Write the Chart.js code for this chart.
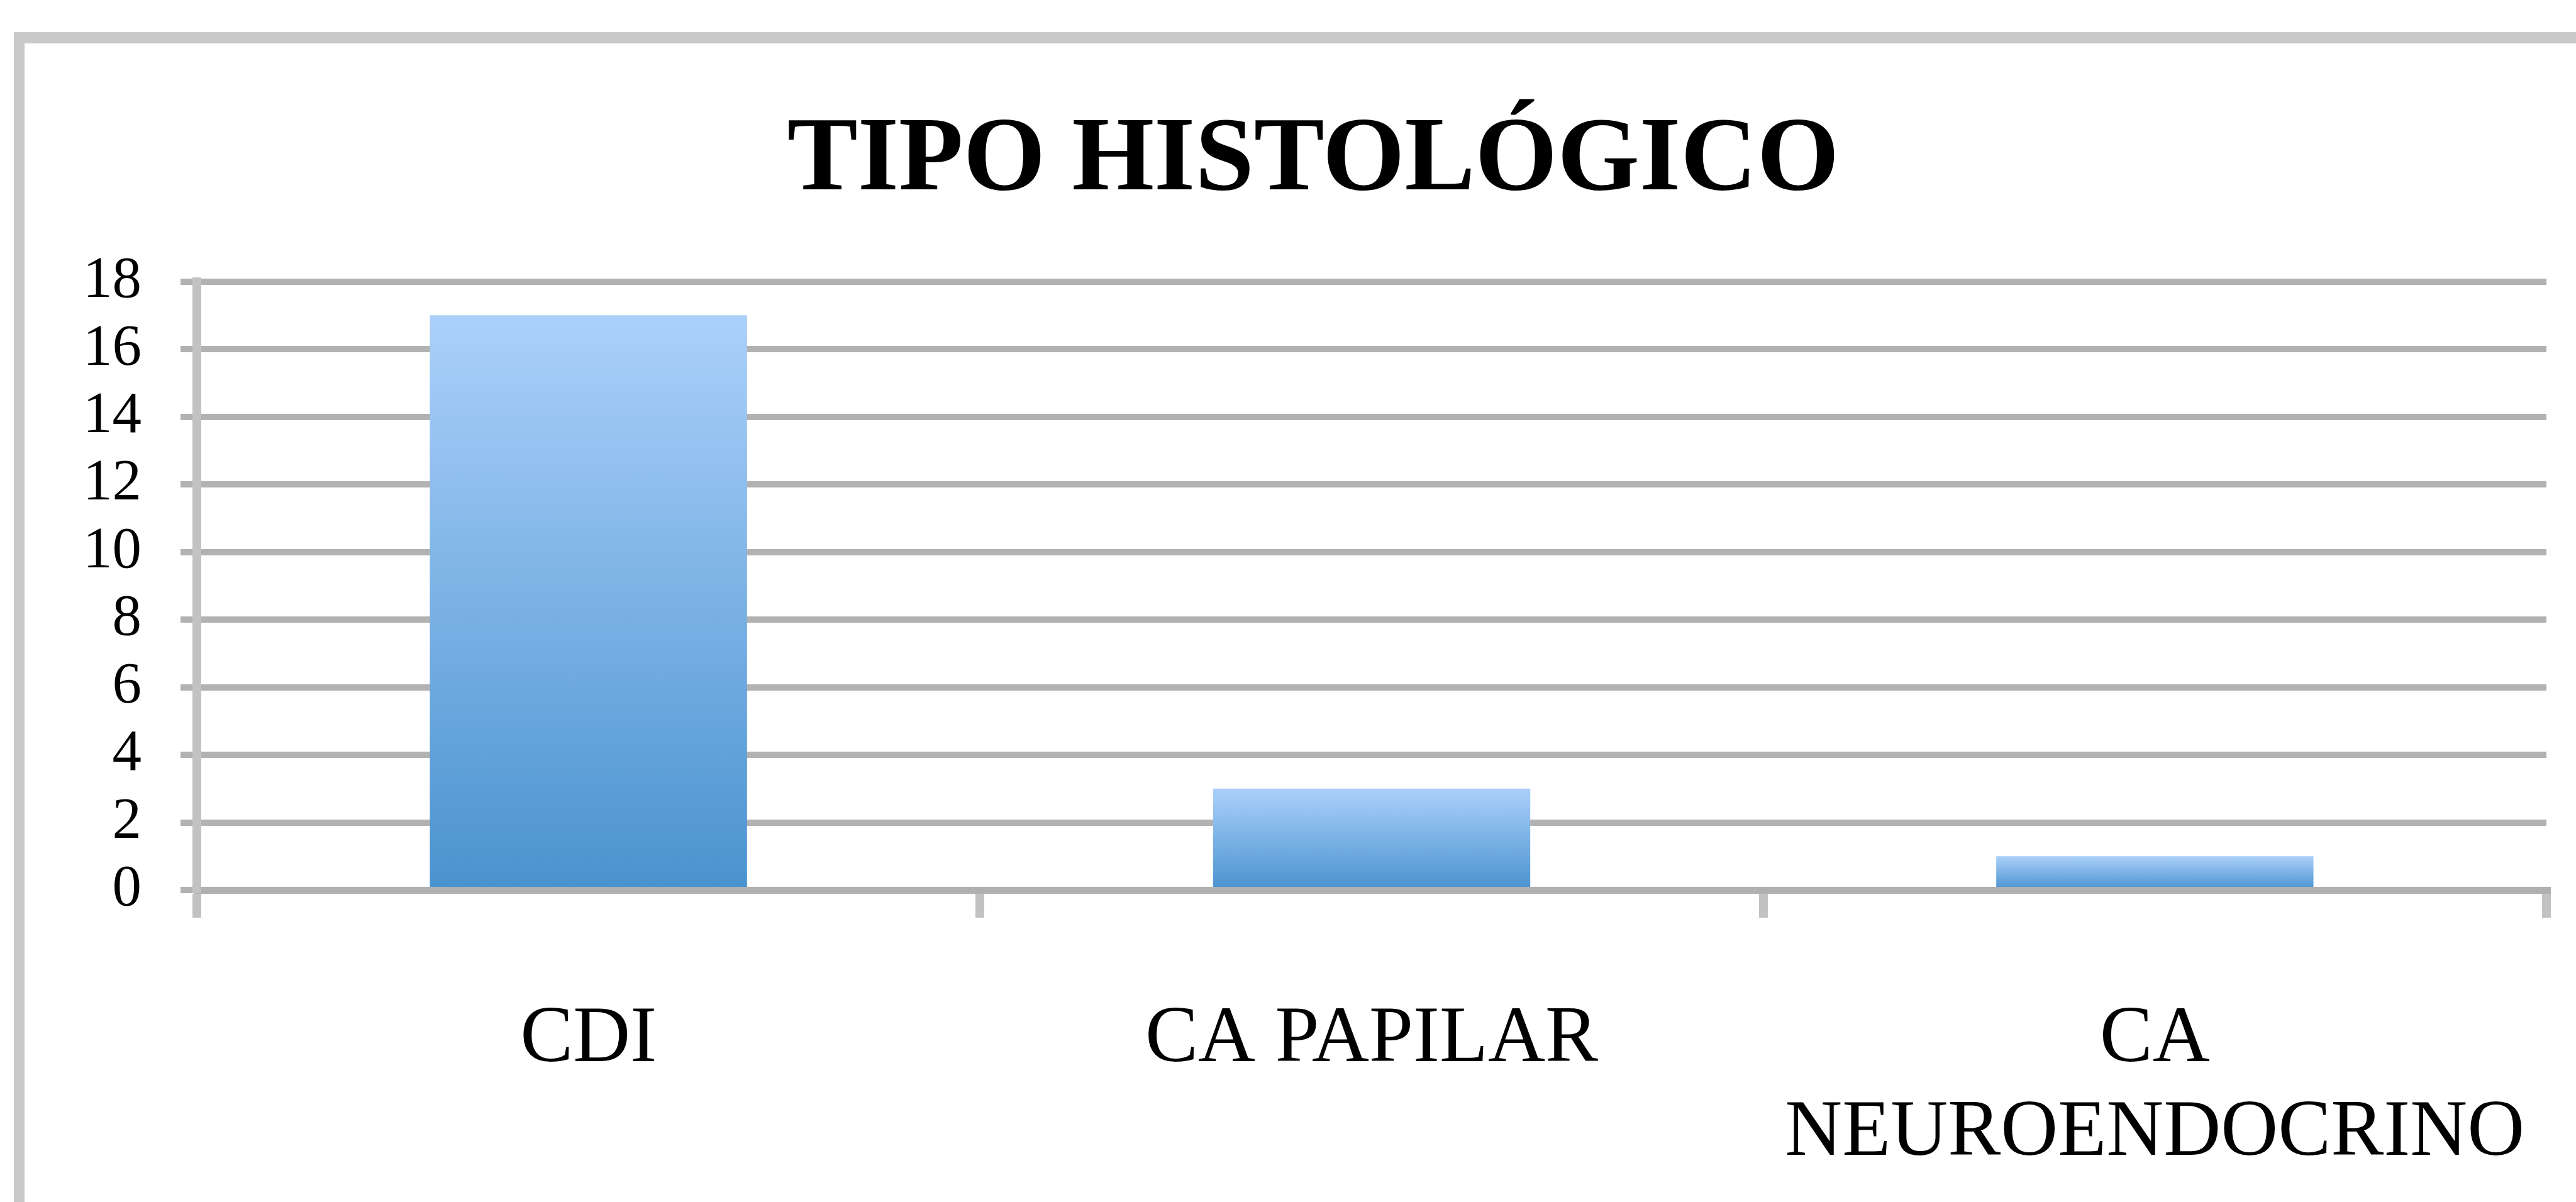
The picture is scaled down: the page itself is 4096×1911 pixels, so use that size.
<!DOCTYPE html>
<html>
<head>
<meta charset="utf-8">
<script src="https://cdn.jsdelivr.net/npm/chart.js@4.4.1/dist/chart.umd.min.js"></script>
<style>
    html, body { margin: 0; padding: 0; background: #fff; overflow: hidden; }
    #frame {
        position: absolute; left: 22px; top: 51px; width: 5000px; height: 3000px;
        border-top: 18px solid #c9c9c9; border-left: 17px solid #c9c9c9;
    }
    #wrap { position: absolute; left: 0; top: 0; width: 4096px; height: 1911px; }
</style>
</head>
<body>
<div id="frame"></div>
<div id="wrap"><canvas id="chartBar"></canvas></div>
<script>
const chartTitle = 'TIPO HISTOLÓGICO';
const categories = ['CDI', 'CA PAPILAR', ['CA', 'NEUROENDOCRINO']];
const counts = [17, 3, 1];
const yMin = 0, yMax = 18, yStep = 2;

const serif = '"Liberation Serif", "Times New Roman", serif';

// vertical gradient for each bar, from its own top down to zero
const barGradient = (ctx) => {
    const chart = ctx.chart;
    const y = chart.scales.y;
    if (!y || ctx.type !== 'data') return '#7fb3e8';
    const top = y.getPixelForValue(ctx.raw);
    const bottom = y.getPixelForValue(0);
    if (!isFinite(top) || !isFinite(bottom) || top === bottom) return '#7fb3e8';
    const g = chart.ctx.createLinearGradient(0, top, 0, bottom);
    g.addColorStop(0, '#abd0fa');
    g.addColorStop(1, '#4a93cf');
    return g;
};

new Chart(document.getElementById('chartBar').getContext('2d'), {
    type: 'bar',
    data: {
        labels: categories,
        datasets: [{
            data: counts,
            backgroundColor: barGradient,
            borderWidth: 0,
            barPercentage: 1,
            categoryPercentage: 0.405
        }]
    },
    options: {
        responsive: true, maintainAspectRatio: false,
        devicePixelRatio: 1,
        animation: false,
        events: [],
        layout: { padding: { left: 127, right: 47, top: 0, bottom: 0 } },
        plugins: {
            legend: { display: false },
            tooltip: { enabled: false },
            title: {
                display: true,
                text: chartTitle,
                color: '#000',
                font: { family: serif, size: 168, weight: 'bold', lineHeight: 1.2 },
                padding: { top: 157, bottom: 89 }
            }
        },
        scales: {
            x: {
                grid: {
                    display: true, drawOnChartArea: false, drawTicks: true,
                    tickLength: 44, color: '#c2c2c2', lineWidth: 14, offset: true
                },
                border: { display: true, color: '#b0b0b0', width: 11 },
                ticks: {
                    color: '#000', padding: 121, maxRotation: 0, autoSkip: false,
                    font: { family: serif, size: 126, lineHeight: 1.18 }
                },
                afterFit: (s) => {
                    s.height = 496;
                    // labels sit well inside their categories, no side padding needed
                    s.paddingLeft = 0;
                    s.paddingRight = 0;
                }
            },
            y: {
                min: yMin, max: yMax,
                ticks: {
                    stepSize: yStep, color: '#000', padding: 62, autoSkip: false,
                    font: { family: serif, size: 93 }
                },
                grid: { color: '#b2b2b2', lineWidth: 10, tickLength: 26, drawTicks: true },
                border: { display: true, color: '#c2c2c2', width: 14 },
                afterFit: (s) => { s.width = 186; }
            }
        }
    }
});
</script>
</body>
</html>
